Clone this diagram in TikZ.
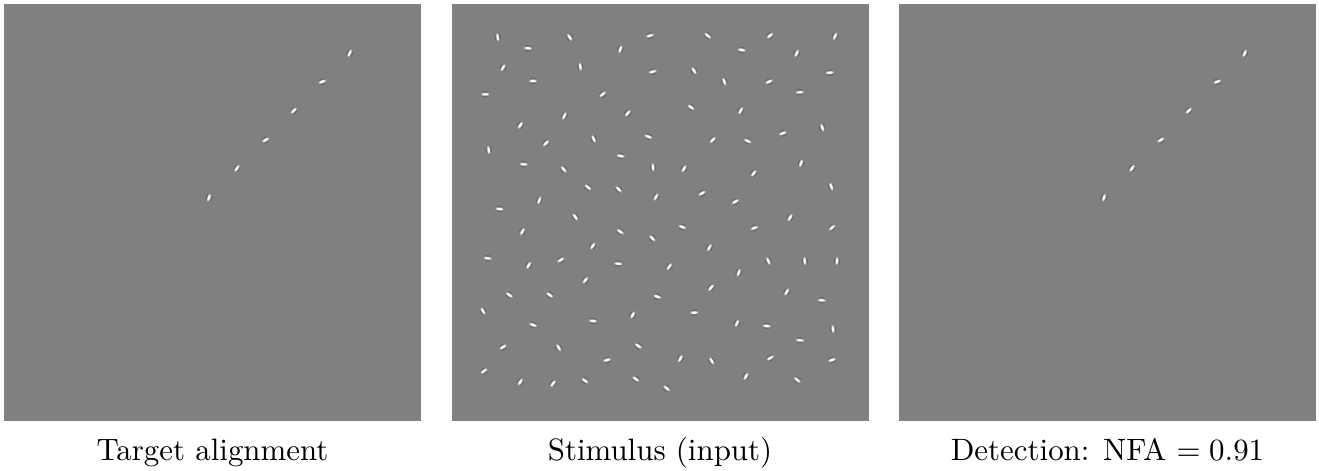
\documentclass[tikz,border=0pt]{standalone}
\usepackage{tikz}
\usetikzlibrary{positioning}
\definecolor{bgGray}{RGB}{128,128,128}
\definecolor{gabDark}{RGB}{90,90,90}
\definecolor{gabLight}{RGB}{252,252,252}

\begin{document}
\begin{tikzpicture}[
  x=0.3236pt, y=-0.3236pt,
  panel/.style={fill=bgGray,inner sep=0pt,minimum size=417*0.3236pt},
  caption/.style={anchor=base,font=\normalsize},
  gabor/.pic={
    \fill[gabDark,opacity=0.6] (0, 2.1) ellipse [x radius=3.0,y radius=1.1];
    \fill[gabDark,opacity=0.6] (0,-2.1) ellipse [x radius=3.0,y radius=1.1];
    \fill[gabLight,opacity=0.4] (0,0) ellipse [x radius=4.2,y radius=1.8];
    \fill[gabLight] (0,0) ellipse [x radius=3.0,y radius=1.2];
  }
]
  \useasboundingbox (0,0) rectangle (1319,471);

  % ── Panels ────────────────────────────────────────────────────────────────
  \node[panel] (target)    at (212.5,212.5)  {};
  \node[panel] (stimulus)  at (660,212.5)    {};
  \node[panel] (detection) at (1107.5,212.5) {};

  \node[caption] (capT) at (212.5,460)  {Target alignment};
  \node[caption] (capS) at (660,460)    {Stimulus (input)};
  \node[caption] (capD) at (1107.5,460) {Detection: NFA $= 0.91$};

  % ── Target alignment (also the detected one, shifted) ─────────────────────
  \foreach \dx in {0,895}
    \foreach \px/\py/\a in {349.7/53.3/65, 322.3/81.7/20, 293.7/110.7/45,
                            265.7/140/30, 237/168.3/55, 209/197.7/70}
      \pic[rotate=\a] at (\px+\dx,\py) {gabor};

  % ── Stimulus: alignment hidden among clutter ──────────────────────────────
  \foreach \px/\py/\a in {
      497.7/37.3/100, 569.7/37.3/125, 650/35.7/15, 528/48.3/-5, 620.3/49.3/70,
      503/67.7/60, 580.3/66.7/100, 652.7/71.7/15, 533/81/0, 485.3/94.3/0,
      602.7/94.3/40, 564.3/116/65, 627.7/113.3/50, 520.3/125.3/55, 546/143.3/45,
      593.7/139/115, 648.3/136.7/-20, 488.7/150/100, 523.7/164.3/-5, 620.7/156/-10,
      563.7/169.3/130, 653/167.3/95, 588/187.3/140, 618.7/189.3/135, 539.3/200.3/70,
      656/197/60, 499.5/209/-5,
      707.7/35.7/140, 770/35.7/40, 835/36.3/65, 741.7/50/-10, 796.7/53.3/65,
      694/70.7/120, 724.3/81.7/110, 769/81.7/25, 829.7/72.7/5, 799.7/92.3/5,
      691/107.3/145, 740.7/110.7/60, 822.3/127.7/110, 712.7/140/45, 747.7/141/155,
      782.7/133.3/20, 684/168.7/60, 753.7/173.3/50, 801/163.3/70, 831.3/186.7/110,
      702/193.3/30, 735.3/201.7/30,
      575.3/217/125, 522.3/231.7/60, 620.3/231.7/145, 652.3/238.3/135, 592.7/246/55,
      487.7/258.3/-5, 528.7/265.3/60, 560.7/260/30, 618.3/263.7/-5, 585.3/280.3/50,
      509.3/295/145, 549.7/295/145, 657.3/296.7/160, 483/311/120, 632.7/315/60,
      533/325/160, 593/321/-5, 503/347/30, 558.7/347.7/120, 638.3/346/145,
      607/360/15, 484/371/35, 520.3/382/55, 553/383.7/55, 585/380.7/145,
      635.7/379/145, 666.7/388.3/140,
      790/217.7/60, 682.3/227/160, 754.3/228/20, 832/227.7/40, 709.3/247.7/60,
      768.3/261/115, 804.7/261/95, 837/261/85, 669.3/266.7/55, 738.7/272.7/70,
      711/287.7/50, 786.7/292/60, 821.7/300.3/-5, 694.3/312.7/0, 737/323.3/65,
      766.7/326/-5, 833/329/95, 800/340.3/-5, 680.3/358.7/60, 711.7/361/120,
      770.3/358/30, 832/360/20, 746/376.3/60, 797.3/380/140}
    \pic[rotate=\a] at (\px,\py) {gabor};
\end{tikzpicture}
\end{document}
